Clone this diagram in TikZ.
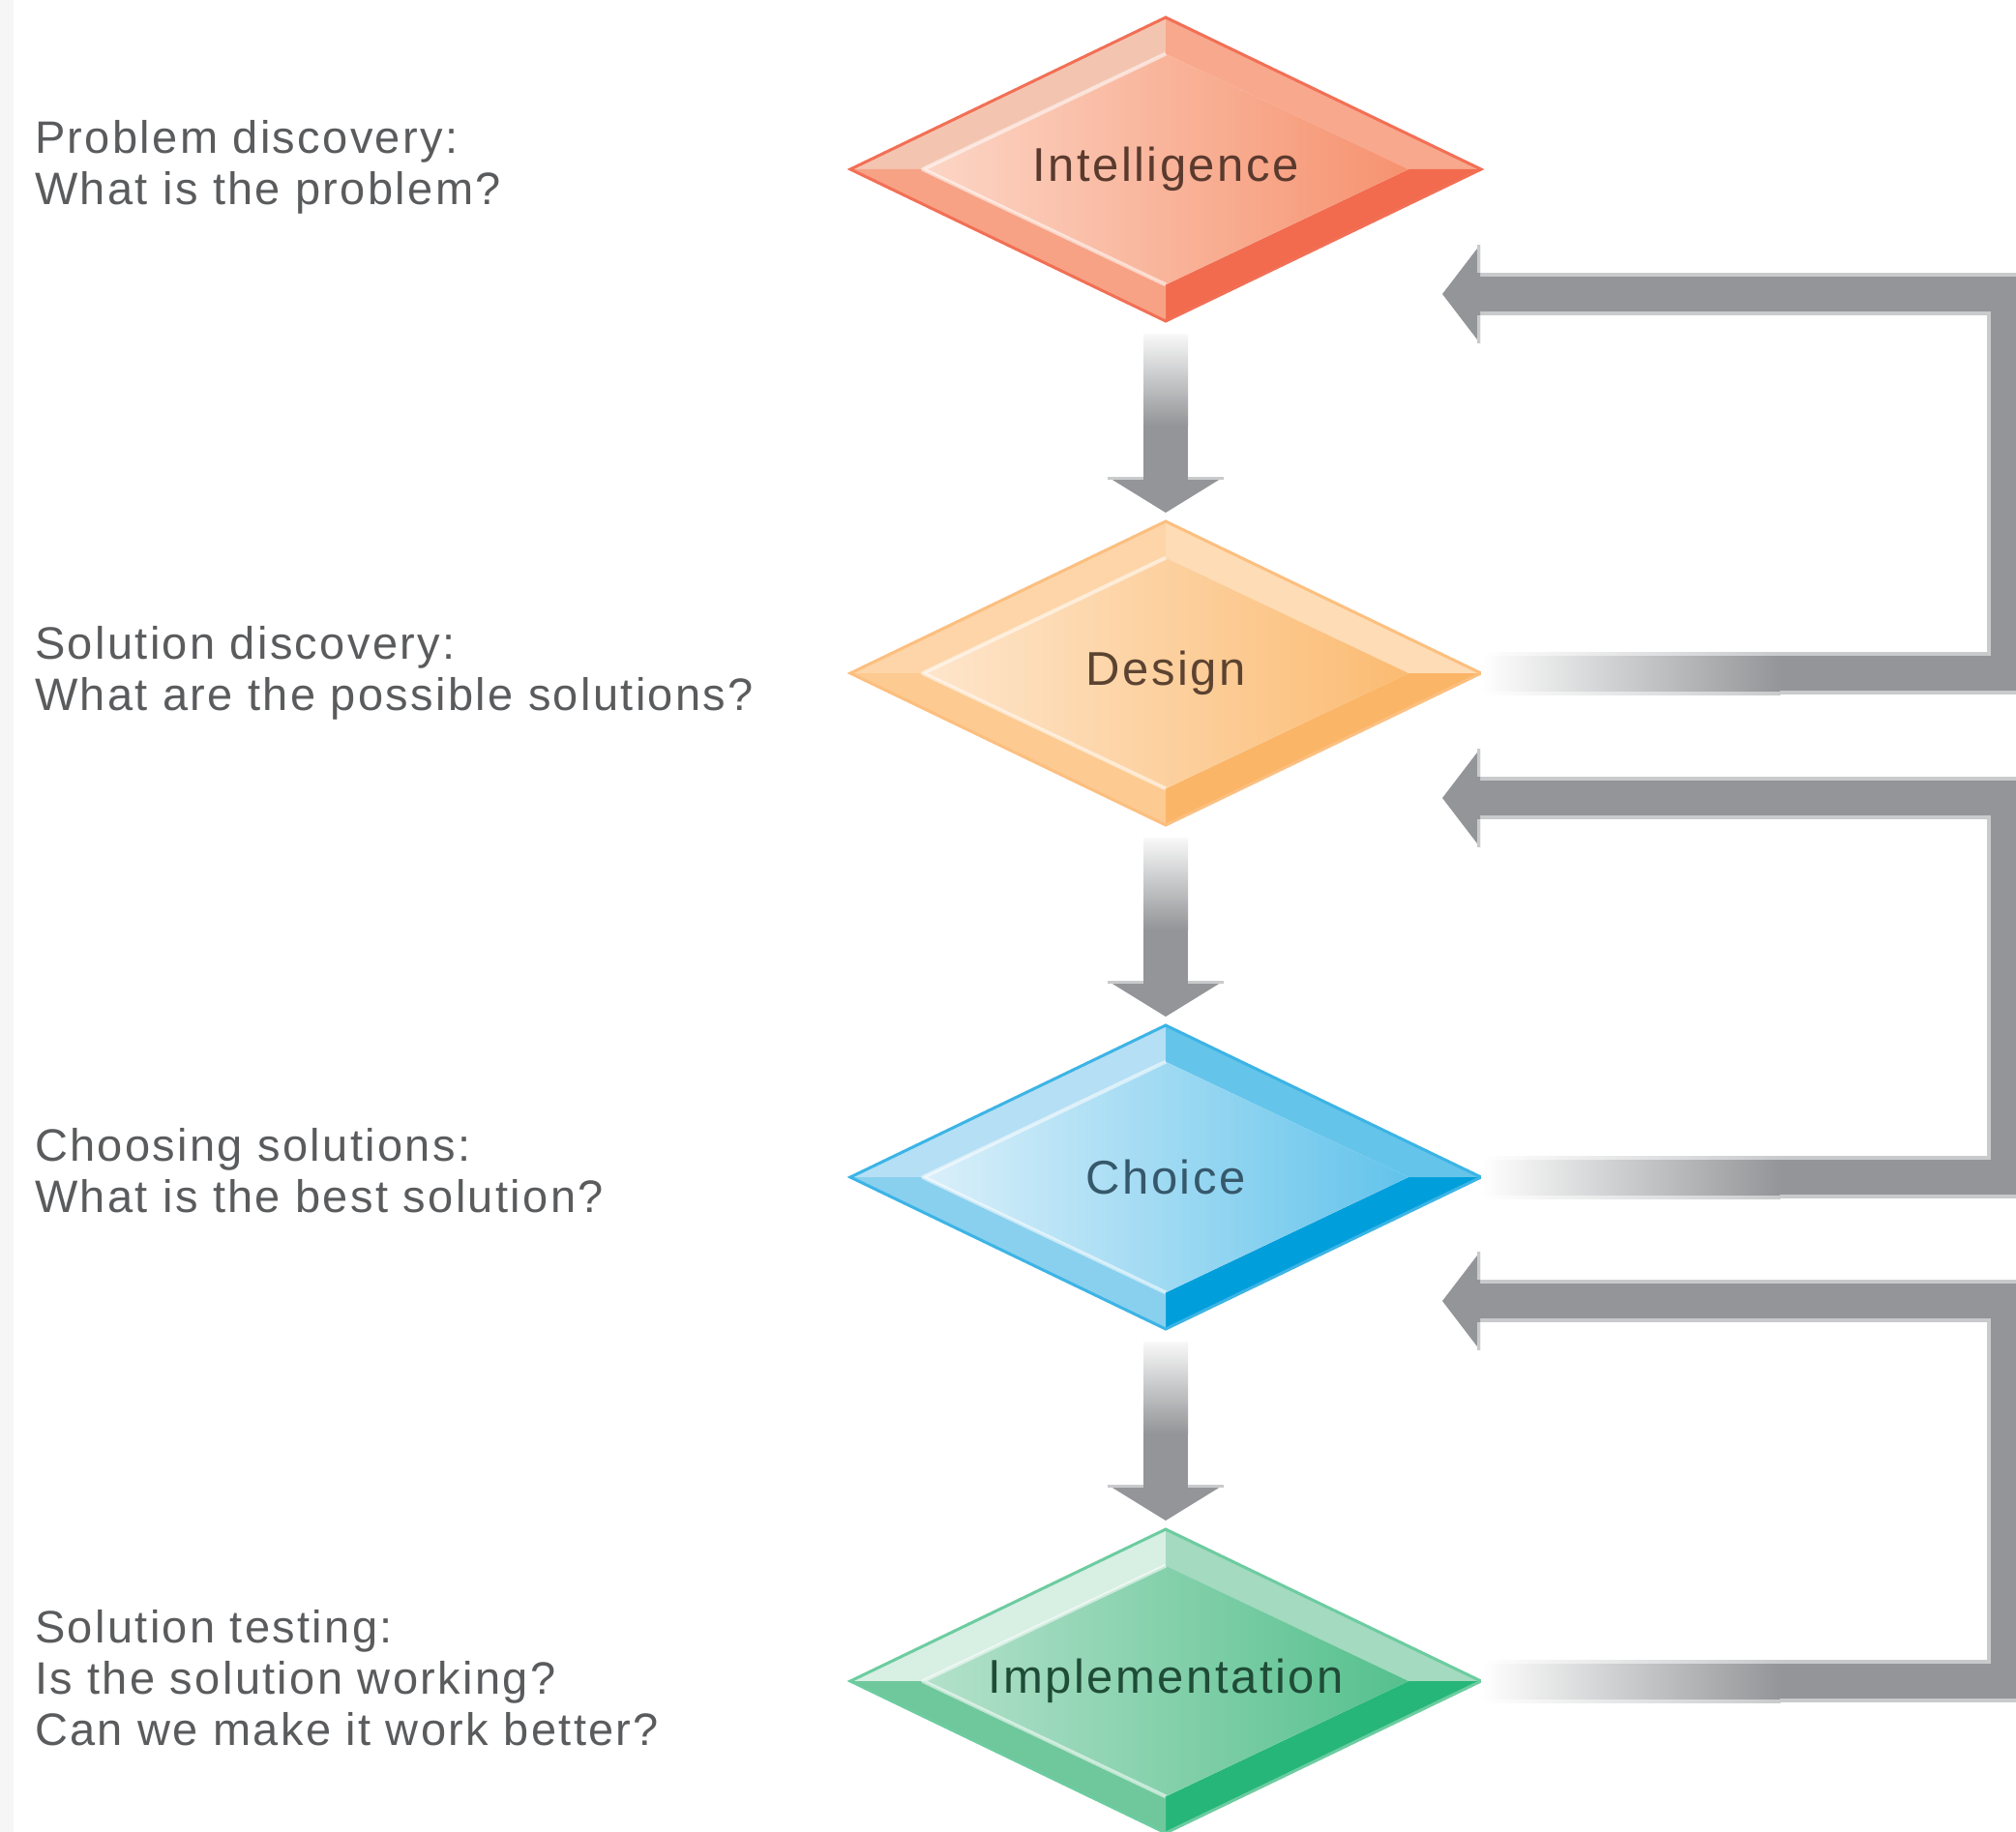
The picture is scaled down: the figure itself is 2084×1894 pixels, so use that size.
\documentclass[tikz,border=0pt]{standalone}
\usepackage{fontspec}
\usetikzlibrary{calc,shapes.geometric}
\newfontfamily\lfont{Liberation Sans}[LetterSpace=5.0]

\definecolor{agray}{HTML}{939598}
\definecolor{blight}{HTML}{C9CACC}
\definecolor{ltext}{HTML}{5A5B5D}
\definecolor{leftstrip}{HTML}{F6F6F6}
% Intelligence
\definecolor{intS}{HTML}{F26F55}
\definecolor{intTL}{HTML}{F3C5B1}
\definecolor{intTR}{HTML}{F8A88C}
\definecolor{intBR}{HTML}{F26B4F}
\definecolor{intBL}{HTML}{F7A285}
\definecolor{intIL}{HTML}{FCD6C6}
\definecolor{intIR}{HTML}{F6926F}
\definecolor{intT}{HTML}{5B3A2E}
% Design
\definecolor{desS}{HTML}{FCBF7F}
\definecolor{desTL}{HTML}{FDD5A8}
\definecolor{desTR}{HTML}{FEDCB6}
\definecolor{desBR}{HTML}{FBB567}
\definecolor{desBL}{HTML}{FDCA91}
\definecolor{desIL}{HTML}{FEE6CC}
\definecolor{desIR}{HTML}{FBBB72}
\definecolor{desT}{HTML}{5C4331}
% Choice
\definecolor{choS}{HTML}{3CB4E5}
\definecolor{choTL}{HTML}{B5DFF4}
\definecolor{choTR}{HTML}{65C4EA}
\definecolor{choBR}{HTML}{009FDB}
\definecolor{choBL}{HTML}{89D0EF}
\definecolor{choIL}{HTML}{DBF0FA}
\definecolor{choIR}{HTML}{62C3EB}
\definecolor{choT}{HTML}{36586B}
% Implementation
\definecolor{impS}{HTML}{6CCCA0}
\definecolor{impTL}{HTML}{D8EFE4}
\definecolor{impTR}{HTML}{A4DAC0}
\definecolor{impBR}{HTML}{26B67A}
\definecolor{impBL}{HTML}{6FC89C}
\definecolor{impIL}{HTML}{B4E1CB}
\definecolor{impIR}{HTML}{55C08D}
\definecolor{impT}{HTML}{1F4C37}

\tikzset{
  dgeom/.style={diamond, minimum width=652pt, minimum height=314pt, inner sep=0pt, outer sep=0pt},
  dlabel/.style={font=\lfont\fontsize{49}{55}\selectfont, inner sep=0pt},
  lefttext/.style={font=\lfont\fontsize{47}{53}\selectfont, text=ltext, align=left, anchor=west, inner sep=0pt},
}

\newcommand{\bevdiamond}[4]{%
  \node[dgeom] (#1) at (1205,#2) {};
  \coordinate (#1-n) at ($(#1.center)!0.76!(#1.north)$);
  \coordinate (#1-s) at ($(#1.center)!0.76!(#1.south)$);
  \coordinate (#1-e) at ($(#1.center)!0.77!(#1.east)$);
  \coordinate (#1-w) at ($(#1.center)!0.77!(#1.west)$);
  \fill[#3TL] (#1.west) -- (#1.north) -- (#1-n) -- (#1-w) -- cycle;
  \fill[#3TR] (#1.north) -- (#1.east) -- (#1-e) -- (#1-n) -- cycle;
  \fill[#3BR] (#1.east) -- (#1.south) -- (#1-s) -- (#1-e) -- cycle;
  \fill[#3BL] (#1.south) -- (#1.west) -- (#1-w) -- (#1-s) -- cycle;
  \shade[left color=#3IL, right color=#3IR] (#1-n) -- (#1-e) -- (#1-s) -- (#1-w) -- cycle;
  \draw[white, opacity=0.55, line width=4pt, line join=round] (#1-s) -- (#1-w) -- (#1-n);
  \draw[#3S, line width=3pt] (#1.north) -- (#1.east) -- (#1.south) -- (#1.west) -- cycle;
  \node[dlabel, text=#3T] (#1-lab) at (#1.center) {#4};
}

\newcommand{\flowarrow}[3]{%
  \coordinate (#3-top) at ($(#1.south)+(0,13)$);
  \coordinate (#3-tip) at ($(#2.north)+(0,-9)$);
  \coordinate (#3-base) at ($(#3-tip)+(0,-37)$);
  \shade[top color=agray!6, bottom color=agray] ($(#3-top)+(-23,0)$) rectangle ($(#3-top)+(23,95)$);
  \fill[agray] ($(#3-top)+(-23,94.5)$) rectangle ($(#3-base)+(23,0.5)$);
  \fill[agray] ($(#3-base)+(-60,0)$) -- ($(#3-base)+(60,0)$) -- (#3-tip) -- cycle;
  \draw[blight, line width=3pt] ($(#3-base)+(-60,1.5)$) -- ($(#3-base)+(-23,1.5)$);
  \draw[blight, line width=3pt] ($(#3-base)+(23,1.5)$) -- ($(#3-base)+(60,1.5)$);
}

\newcommand{\feedback}[3]{%
  \coordinate (#3-tip) at (1491,#2);
  \coordinate (#3-hb) at (1530,#2);
  \coordinate (#3-g) at ($(#1.east)+(309,0)$);
  \shade[left color=white, right color=blight] ($(#1.east)+(0,-22)$) rectangle ($(#3-g)+(0.5,22)$);
  \shade[left color=white, right color=agray] ($(#1.east)+(0,-18)$) rectangle ($(#3-g)+(0.5,18)$);
  \draw[blight, line width=44pt] (#3-g) -- (#3-g -| rx) -- (#3-hb -| rx) -- (#3-hb);
  \draw[agray, line width=36pt] (#3-g) -- (#3-g -| rx) -- (#3-hb -| rx) -- (#3-hb);
  \fill[agray] (#3-tip) -- ($(#3-hb)+(0,-51)$) -- ($(#3-hb)+(0,51)$) -- cycle;
  \draw[blight, line width=3pt] ($(#3-hb)+(-1.5,-51)$) -- ($(#3-hb)+(-1.5,-22)$);
  \draw[blight, line width=3pt] ($(#3-hb)+(-1.5,22)$) -- ($(#3-hb)+(-1.5,51)$);
}

\begin{document}
\begin{tikzpicture}[x=1pt,y=-1pt]
  \useasboundingbox (0,0) rectangle (2084,1894);
  \clip (0,0) rectangle (2084,1894);
  \fill[white] (0,0) rectangle (2084,1894);
  \fill[leftstrip] (0,0) rectangle (14,1894);
  \coordinate (rx) at (2076,0);

  \bevdiamond{intel}{175}{int}{Intelligence}
  \bevdiamond{design}{696}{des}{Design}
  \bevdiamond{choice}{1217}{cho}{Choice}
  \bevdiamond{impl}{1738}{imp}{Implementation}

  \flowarrow{intel}{design}{a1}
  \flowarrow{design}{choice}{a2}
  \flowarrow{choice}{impl}{a3}

  \feedback{design}{304}{f1}
  \feedback{choice}{825}{f2}
  \feedback{impl}{1345}{f3}

  \node[lefttext] (q1) at (36,173) {Problem discovery:\\What is the problem?};
  \node[lefttext] (q2) at (36,696) {Solution discovery:\\What are the possible solutions?};
  \node[lefttext] (q3) at (36,1210) {Choosing solutions:\\What is the best solution?};
  \node[lefttext] (q4) at (36,1735) {Solution testing:\\Is the solution working?\\Can we make it work better?};
\end{tikzpicture}
\end{document}
